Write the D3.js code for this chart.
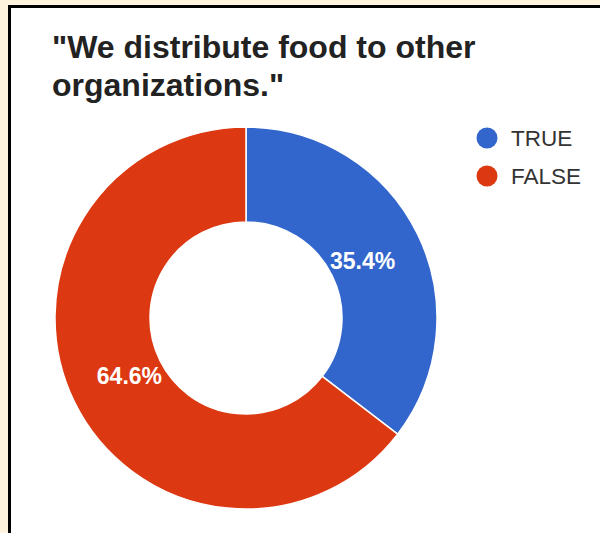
<!DOCTYPE html>
<html>
<head>
<meta charset="utf-8">
<script src="https://cdn.jsdelivr.net/npm/d3@7"></script>
<style>
  html, body { margin: 0; padding: 0; background: #fef3dc; }
  svg { display: block; }
</style>
</head>
<body>
<svg id="chart" width="600" height="533"></svg>
<script>
// data
var categories = ['TRUE', 'FALSE']
var values = [35.4, 64.6]
var colors = ['#3366cc', '#dc3912']
var titleLines = ['"We distribute food to other', 'organizations."']

var w = 600
var h = 533

var svg = d3.select('#chart')

// white card with black border on left and top
svg.append('rect')
  .attr('x', 8).attr('y', 5)
  .attr('width', w).attr('height', h)
  .attr('fill', '#fff')
svg.append('rect').attr('x', 8).attr('y', 5).attr('width', w).attr('height', 3).attr('fill', '#000')
svg.append('rect').attr('x', 8).attr('y', 5).attr('width', 3).attr('height', h).attr('fill', '#000')

// title
svg.append('g')
  .selectAll('text')
  .data(titleLines)
  .join('text')
  .attr('x', 52)
  .attr('y', (d, i) => 58 + i * 38)
  .attr('font-family', 'Liberation Sans, Arial, sans-serif')
  .attr('font-size', 32)
  .attr('font-weight', 'bold')
  .attr('fill', '#222')
  .text(d => d)

// donut
var cx = 246, cy = 318
var outerR = 191, innerR = 96

var pie = d3.pie().sort(null).value(d => d)
var arcs = pie(values)

var arc = d3.arc().innerRadius(innerR).outerRadius(outerR)
var labelArc = d3.arc().innerRadius(130).outerRadius(130)

var g = svg.append('g').attr('transform', 'translate(' + cx + ',' + cy + ')')

g.selectAll('path')
  .data(arcs)
  .join('path')
  .attr('d', arc)
  .attr('fill', (d, i) => colors[i])
  .attr('stroke', '#fff')
  .attr('stroke-width', 1.5)

g.selectAll('text')
  .data(arcs)
  .join('text')
  .attr('transform', d => 'translate(' + labelArc.centroid(d) + ')')
  .attr('text-anchor', 'middle')
  .attr('dy', '0.35em')
  .attr('font-family', 'Liberation Sans, Arial, sans-serif')
  .attr('font-size', 23)
  .attr('font-weight', 'bold')
  .attr('fill', '#fff')
  .text(d => d.data.toFixed(1) + '%')

// legend
var legend = svg.append('g')
  .selectAll('g')
  .data(categories)
  .join('g')
  .attr('transform', (d, i) => 'translate(487,' + (138 + i * 38) + ')')

legend.append('circle')
  .attr('r', 10.5)
  .attr('fill', (d, i) => colors[i])

legend.append('text')
  .attr('x', 24)
  .attr('dy', '0.36em')
  .attr('font-family', 'Liberation Sans, Arial, sans-serif')
  .attr('font-size', 22.5)
  .attr('fill', '#333')
  .text(d => d)
</script>
</body>
</html>
